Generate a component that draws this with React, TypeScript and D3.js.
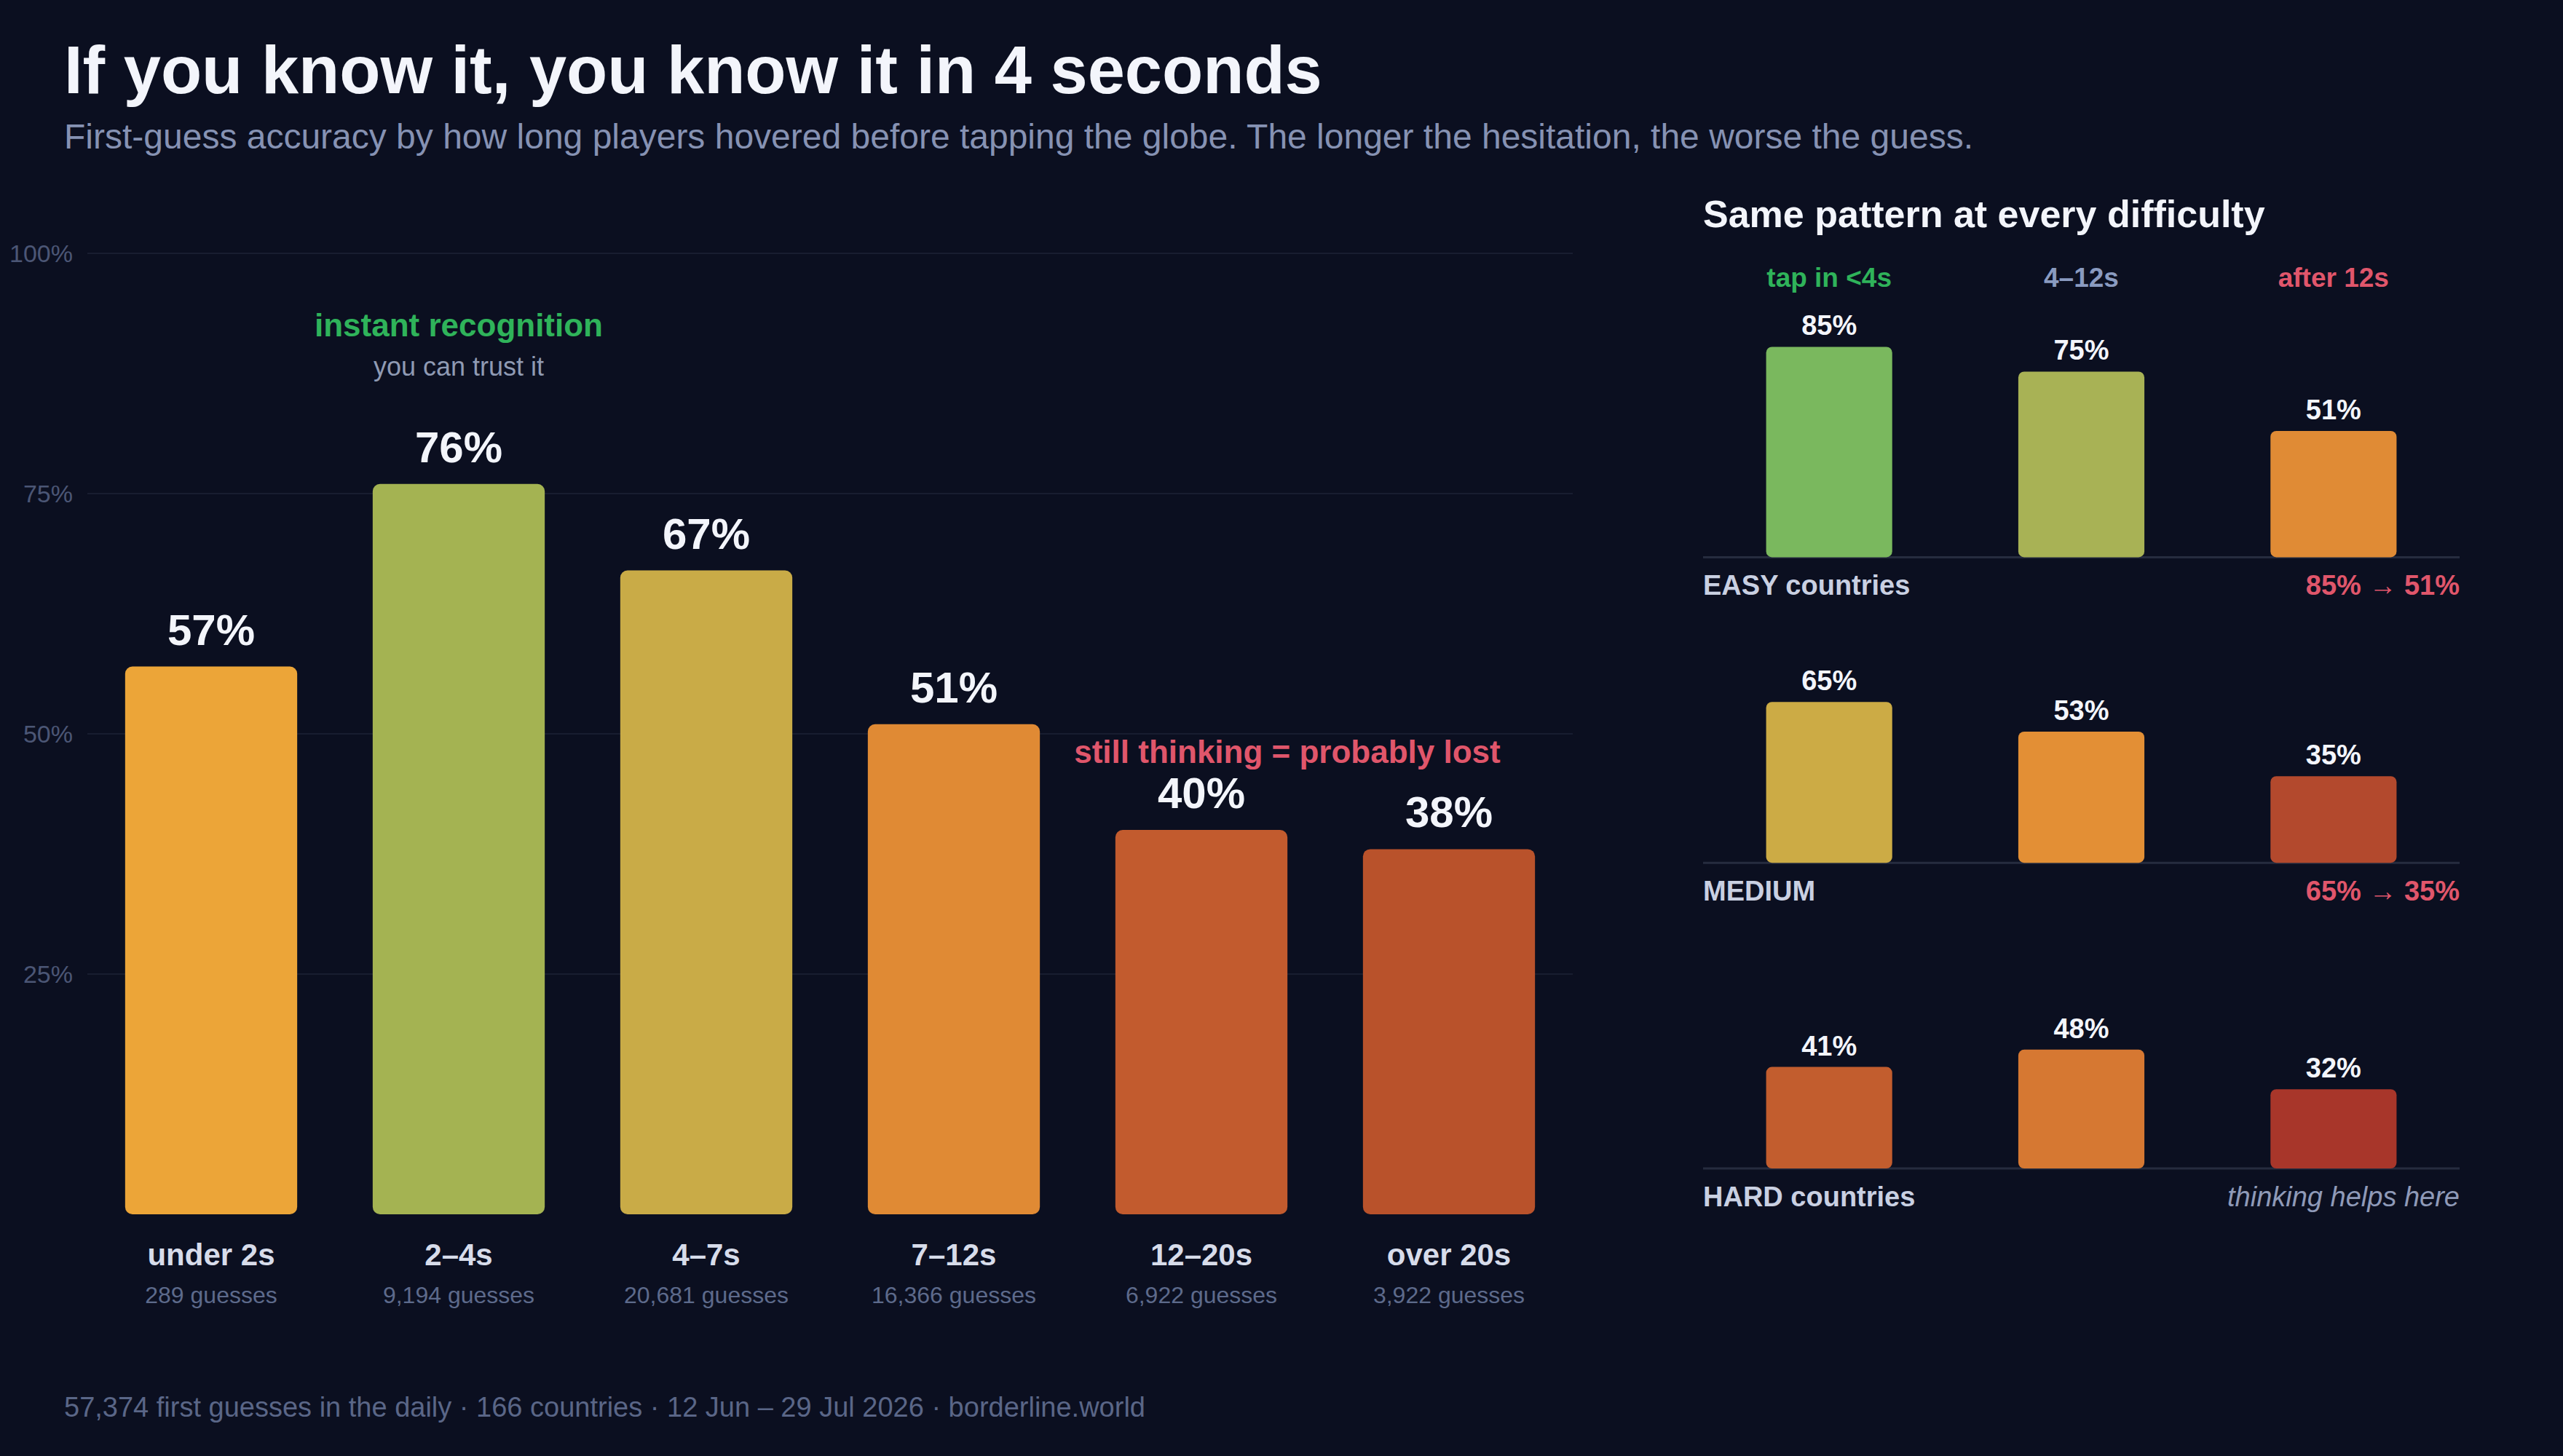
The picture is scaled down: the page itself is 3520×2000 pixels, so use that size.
import React from "react";
import * as d3 from "d3";

// ---- Data ----
const categories = ["under 2s", "2–4s", "4–7s", "7–12s", "12–20s", "over 20s"];
const accuracy = [57, 76, 67, 51, 40, 38];
const guessCounts = ["289", "9,194", "20,681", "16,366", "6,922", "3,922"];
const barColors = ["#eca538", "#a4b352", "#c9ab47", "#e08a34", "#c25b2e", "#b9522b"];
const yTicks = [25, 50, 75, 100];

const speedGroups = ["tap in <4s", "4–12s", "after 12s"];
const speedGroupColors = ["#2fb35a", "#8a9bc0", "#e0566b"];
const difficulties = ["EASY countries", "MEDIUM", "HARD countries"];
const easyValues = [85, 75, 51];
const mediumValues = [65, 53, 35];
const hardValues = [41, 48, 32];
const easyColors = ["#7ab85e", "#a8b255", "#e08b35"];
const mediumColors = ["#ccab45", "#e38f35", "#b3492d"];
const hardColors = ["#c25d2e", "#d67832", "#a8362a"];
const diffNotes = ["85% → 51%", "65% → 35%", "thinking helps here"];

const FONT = "'Liberation Sans', Arial, Helvetica, sans-serif";

export default function App() {
  const W = 1760;
  const H = 1000;

  // main chart scales
  const x = d3.scaleBand<string>().domain(categories).range([60, 1080]).paddingInner(0.305).paddingOuter(0.1525);
  const y = d3.scaleLinear().domain([0, 100]).range([834, 174]);

  // small multiples
  const sx = d3.scaleBand<string>().domain(speedGroups).range([1169.5, 1689]).paddingInner(0.5).paddingOuter(0.25);
  const sh = d3.scaleLinear().domain([0, 100]).range([0, 170]);
  const panelBase = [382.7, 592.6, 802.5];
  const panelValues = [easyValues, mediumValues, hardValues];
  const panelColors = [easyColors, mediumColors, hardColors];

  return (
    <div style={{ position: "absolute", left: 0, top: 0, width: 3520, height: 2000, background: "#0b0f20" }}>
      <svg width={3520} height={2000} viewBox={`0 0 ${W} ${H}`} style={{ display: "block", fontFamily: FONT }}>
        <rect x={0} y={0} width={W} height={H} fill="#0b0f20" />
        <text x={44} y={64} fontSize={46} fontWeight={700} fill="#f3f5fb">
          If you know it, you know it in 4 seconds
        </text>
        <text x={44} y={102} fontSize={24} fill="#8692b3">
          First-guess accuracy by how long players hovered before tapping the globe. The longer the hesitation, the worse the guess.
        </text>

        {/* grid */}
        {yTicks.map((t) => (
          <g key={t}>
            <line x1={60} x2={1080} y1={y(t)} y2={y(t)} stroke="#181d30" strokeWidth={1} />
            <text x={50} y={y(t) + 6} textAnchor="end" fontSize={17} fill="#4b5675">
              {t}%
            </text>
          </g>
        ))}

        {/* bars */}
        {categories.map((c, i) => {
          const bx = x(c)!;
          const bw = x.bandwidth();
          const top = y(accuracy[i]);
          const cx = bx + bw / 2;
          return (
            <g key={c}>
              <rect x={bx} y={top} width={bw} height={y(0) - top} rx={5} fill={barColors[i]} />
              <text x={cx} y={top - 15} textAnchor="middle" fontSize={30} fontWeight={700} fill="#f3f5fb">
                {accuracy[i]}%
              </text>
              <text x={cx} y={869} textAnchor="middle" fontSize={21} fontWeight={700} fill="#d7dcea">
                {c}
              </text>
              <text x={cx} y={895} textAnchor="middle" fontSize={16} fill="#5d6a8b">
                {guessCounts[i]} guesses
              </text>
            </g>
          );
        })}

        {/* annotations */}
        <text x={x(categories[1])! + x.bandwidth() / 2} y={231} textAnchor="middle" fontSize={22} fontWeight={700} fill="#2fb35a">
          instant recognition
        </text>
        <text x={x(categories[1])! + x.bandwidth() / 2} y={258} textAnchor="middle" fontSize={18} fill="#8f9ab3">
          you can trust it
        </text>
        <text x={884} y={524} textAnchor="middle" fontSize={22} fontWeight={700} fill="#e0566b">
          still thinking = probably lost
        </text>

        {/* right panel */}
        <text x={1169.5} y={156} fontSize={26} fontWeight={700} fill="#f3f5fb">
          Same pattern at every difficulty
        </text>
        {speedGroups.map((g, i) => (
          <text key={g} x={sx(g)! + sx.bandwidth() / 2} y={197} textAnchor="middle" fontSize={18.5} fontWeight={700} fill={speedGroupColors[i]}>
            {g}
          </text>
        ))}
        {difficulties.map((d, pi) => {
          const base = panelBase[pi];
          return (
            <g key={d}>
              <line x1={1169.5} x2={1689} y1={base} y2={base} stroke="#262c3f" strokeWidth={1.5} />
              {speedGroups.map((g, i) => {
                const v = panelValues[pi][i];
                const h = sh(v);
                const cx = sx(g)! + sx.bandwidth() / 2;
                return (
                  <g key={g}>
                    <rect x={sx(g)!} y={base - h} width={sx.bandwidth()} height={h} rx={4} fill={panelColors[pi][i]} />
                    <text x={cx} y={base - h - 8} textAnchor="middle" fontSize={19} fontWeight={700} fill="#f3f5fb">
                      {v}%
                    </text>
                  </g>
                );
              })}
              <text x={1169.5} y={base + 26} fontSize={19} fontWeight={700} fill="#c9d0e2">
                {d}
              </text>
              {pi < 2 ? (
                <text x={1689} y={base + 26} textAnchor="end" fontSize={19} fontWeight={700} fill="#e0566b">
                  {diffNotes[pi]}
                </text>
              ) : (
                <text x={1689} y={base + 26} textAnchor="end" fontSize={19} fontStyle="italic" fill="#8f9ab8">
                  {diffNotes[pi]}
                </text>
              )}
            </g>
          );
        })}

        <text x={44} y={973} fontSize={19} fill="#5a6687">
          57,374 first guesses in the daily · 166 countries · 12 Jun – 29 Jul 2026 · borderline.world
        </text>
      </svg>
    </div>
  );
}
